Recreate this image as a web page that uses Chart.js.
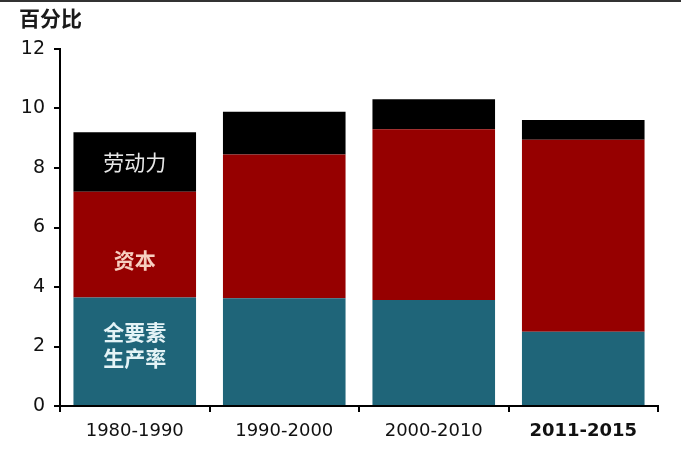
<!DOCTYPE html>
<html>
<head>
<meta charset="utf-8">
<script src="https://cdn.jsdelivr.net/npm/chart.js@4/dist/chart.umd.min.js"></script>
<style>
  html, body { margin: 0; padding: 0; background: #fff; }
  #wrap { position: relative; width: 681px; height: 451px; border-top: 2px solid #333; box-sizing: border-box; }
  #title { position: absolute; left: 19px; top: 0px; font: bold 21px "Noto Sans CJK SC", sans-serif; color: #1a1a1a; }
  canvas { position: absolute; left: 0; top: -2px; }
</style>
</head>
<body>
<div id="wrap">
  <canvas id="chart" width="681" height="451"></canvas>
  <div id="title">百分比</div>
</div>
<script>
const categories = ['1980-1990', '1990-2000', '2000-2010', '2011-2015'];
const tfp = [3.65, 3.62, 3.56, 2.5];
const capital = [3.55, 4.83, 5.74, 6.45];
const labor = [2.0, 1.44, 1.01, 0.66];
const yTicks = [0, 2, 4, 6, 8, 10, 12];

// in-bar labels on the first bar: text lines, colour, vertical position in the segment (0 = bottom)
const segLabels = [
  { lines: ['全要素', '生产率'], color: '#e4f3f6', bold: true, at: 0.56 },
  { lines: ['资本'], color: '#f7cfc0', bold: true, at: 0.35 },
  { lines: ['劳动力'], color: '#e8e8e8', bold: false, at: 0.5 }
];

const barLabelPlugin = {
  id: 'barLabels',
  afterDatasetsDraw(chart) {
    const ctx = chart.ctx;
    ctx.save();
    ctx.textAlign = 'center';
    ctx.textBaseline = 'middle';
    segLabels.forEach((lab, i) => {
      const el = chart.getDatasetMeta(i).data[0];
      const top = Math.min(el.y, el.base);
      const bottom = Math.max(el.y, el.base);
      const cy = bottom - (bottom - top) * lab.at;
      const lh = 26;
      ctx.fillStyle = lab.color;
      ctx.font = (lab.bold ? 'bold ' : '') + '21px "Noto Sans CJK SC", sans-serif';
      lab.lines.forEach((t, k) => {
        ctx.fillText(t, el.x, cy + (k - (lab.lines.length - 1) / 2) * lh);
      });
    });
    ctx.restore();
  }
};

new Chart(document.getElementById('chart'), {
  type: 'bar',
  data: {
    labels: categories,
    datasets: [
      { label: '全要素生产率', data: tfp, backgroundColor: '#1f6579' },
      { label: '资本', data: capital, backgroundColor: '#960000' },
      { label: '劳动力', data: labor, backgroundColor: '#000000' }
    ]
  },
  options: {
    responsive: false,
    animation: false,
    layout: { padding: { top: 49, right: 23, left: 0, bottom: 0 } },
    datasets: { bar: { barPercentage: 0.82, categoryPercentage: 1 } },
    plugins: { legend: { display: false }, tooltip: { enabled: false } },
    scales: {
      x: {
        stacked: true,
        border: { color: '#000', width: 2 },
        grid: { drawOnChartArea: false, color: '#000', tickLength: 6, lineWidth: 2 },
        ticks: {
          color: '#111',
          padding: 9,
          font: ctx => ({ family: '"DejaVu Sans", sans-serif', size: 18, weight: ctx.index === 3 ? 'bold' : 'normal' })
        },
        afterFit: s => { s.height = 45; }
      },
      y: {
        stacked: true,
        min: 0,
        max: 12,
        afterBuildTicks: s => { s.ticks = yTicks.map(v => ({ value: v })); },
        border: { color: '#000', width: 2 },
        grid: { drawOnChartArea: false, color: '#000', tickLength: 6, lineWidth: 2 },
        ticks: {
          color: '#111',
          padding: 9,
          font: { family: '"DejaVu Sans", sans-serif', size: 19 }
        },
        afterFit: s => { s.width = 60; }
      }
    }
  },
  plugins: [barLabelPlugin]
});
</script>
</body>
</html>
